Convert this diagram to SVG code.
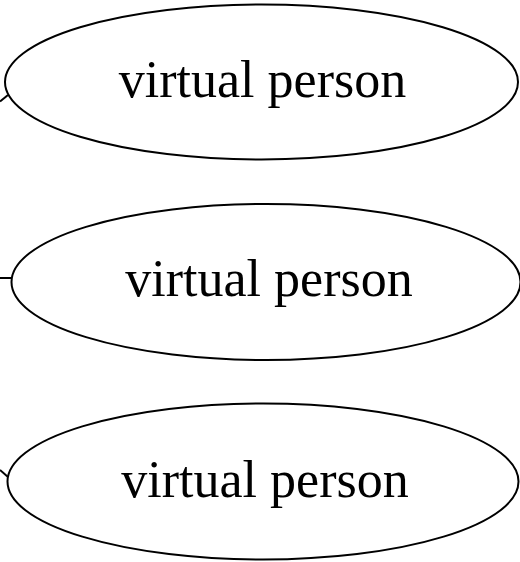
<svg xmlns="http://www.w3.org/2000/svg" width="520" height="562" viewBox="0 0 520 562">
<style>
.node ellipse{fill:#fff;stroke:#000;stroke-width:2}
.node text{font-family:"Liberation Serif","Times New Roman",serif;font-size:52px;fill:#000;text-anchor:middle}
.edge{fill:none;stroke:#000;stroke-width:2}
</style>
<rect width="520" height="562" fill="#fff"/>
<g id="connectors">
<path class="edge" d="M0,101.5 L8,95"/>
<path class="edge" d="M0,278 L11.5,278"/>
<path class="edge" d="M0,470 L8,477"/>
</g>
<g id="node1" class="node">
<ellipse cx="261.5" cy="82" rx="256.5" ry="77.5"/>
<text x="262.5" y="97">virtual person</text>
</g>
<g id="node2" class="node">
<ellipse cx="266" cy="282" rx="254.5" ry="78"/>
<text x="269" y="296">virtual person</text>
</g>
<g id="node3" class="node">
<ellipse cx="263" cy="481.5" rx="255.5" ry="78"/>
<text x="265" y="497">virtual person</text>
</g>
</svg>
